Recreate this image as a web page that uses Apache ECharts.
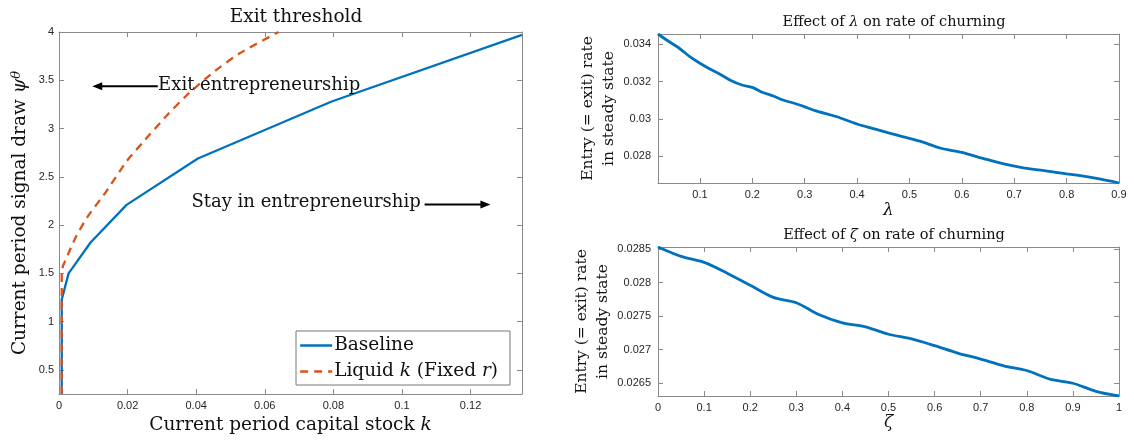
<!DOCTYPE html>
<html>
<head>
<meta charset="utf-8">
<script src="https://cdn.jsdelivr.net/npm/echarts@6/dist/echarts.min.js"></script>
<style>
  html, body { margin: 0; padding: 0; background: #fff; }
  #main { width: 1134px; height: 440px; }
</style>
</head>
<body>
<div id="main"></div>
<script>
// left panel: exit threshold
var baseK = [0.0008, 0.0008, 0.0028, 0.0092, 0.0197, 0.0405, 0.0795, 0.135];
var basePsi = [0.25, 1.23, 1.50, 1.82, 2.21, 2.69, 3.28, 3.97];
var liqK = [0.0008, 0.0008, 0.0012, 0.0022, 0.0035, 0.0051, 0.0082, 0.0138, 0.0197, 0.0245, 0.0313, 0.0371, 0.0449, 0.0527, 0.064];
var liqPsi = [0.25, 1.50, 1.58, 1.66, 1.77, 1.89, 2.08, 2.35, 2.66, 2.86, 3.13, 3.34, 3.58, 3.78, 4.0];
var kTicks = [0, 0.02, 0.04, 0.06, 0.08, 0.1, 0.12];
var psiTicks = [0.5, 1, 1.5, 2, 2.5, 3, 3.5, 4];

// right top: effect of lambda
var lambdaVals = [0.02, 0.04, 0.06, 0.08, 0.10, 0.12, 0.14, 0.16, 0.18, 0.20, 0.22, 0.24, 0.26, 0.28, 0.30, 0.32, 0.36, 0.40, 0.44, 0.48, 0.52, 0.56, 0.60, 0.64, 0.68, 0.72, 0.76, 0.80, 0.82, 0.86, 0.90];
var lambdaRate = [0.03455, 0.03416, 0.03380, 0.03335, 0.03298, 0.03266, 0.03237, 0.03204, 0.03182, 0.03169, 0.03142, 0.03123, 0.03100, 0.03084, 0.03065, 0.03045, 0.03013, 0.02973, 0.02941, 0.02911, 0.02881, 0.02843, 0.02821, 0.02789, 0.02759, 0.02737, 0.02722, 0.02706, 0.02699, 0.02680, 0.02657];
var lambdaTicks = [0.1, 0.2, 0.3, 0.4, 0.5, 0.6, 0.7, 0.8, 0.9];
var lambdaRateTicks = [0.028, 0.03, 0.032, 0.034];

// right bottom: effect of zeta
var zetaVals = [0, 0.05, 0.1, 0.15, 0.2, 0.25, 0.3, 0.35, 0.4, 0.45, 0.5, 0.55, 0.6, 0.65, 0.7, 0.75, 0.8, 0.85, 0.9, 0.95, 1];
var zetaRate = [0.02853, 0.02839, 0.02830, 0.02814, 0.02796, 0.02778, 0.02770, 0.02752, 0.02740, 0.02734, 0.02723, 0.02716, 0.02706, 0.02695, 0.02686, 0.02676, 0.02669, 0.02656, 0.02650, 0.02638, 0.02631];
var zetaTicks = [0, 0.1, 0.2, 0.3, 0.4, 0.5, 0.6, 0.7, 0.8, 0.9, 1];
var zetaRateTicks = [0.0265, 0.027, 0.0275, 0.028, 0.0285];

// annotations in data units of the left panel
var notes = [
  { text: 'Exit entrepreneurship', at: [0.0289, 3.446], from: [0.0288, 3.439], to: [0.0097, 3.439] },
  { text: 'Stay in entrepreneurship', at: [0.0386, 2.232], from: [0.1066, 2.214], to: [0.1258, 2.214] }
];

function zip(a, b) {
  var out = [];
  for (var i = 0; i < a.length; i++) out.push([a[i], b[i]]);
  return out;
}

var SERIF = '"DejaVu Serif", "Liberation Serif", serif';
var SANS = '"Liberation Sans", Arial, sans-serif';
var BOX = '#8a8a8a';
var BLUE = '#0072BD';
var RED = '#D95319';
var BIG = 18.5;

function fmt(v) { return String(+(+v).toFixed(6)); }

// bottom/left axis with labels
function mainAxis(opt) {
  return {
    type: 'value',
    gridIndex: opt.grid,
    min: opt.min,
    max: opt.max,
    position: opt.position,
    axisLine: { show: true, onZero: false, lineStyle: { color: BOX, width: 1 } },
    axisTick: { show: true, inside: true, length: 5, customValues: opt.ticks, lineStyle: { color: BOX } },
    axisLabel: {
      show: true, customValues: opt.ticks, formatter: fmt,
      color: '#262626', fontFamily: SANS, fontSize: 11, margin: opt.margin || 6
    },
    splitLine: { show: false },
    name: opt.name,
    nameLocation: 'middle',
    nameGap: opt.nameGap,
    nameTextStyle: opt.nameStyle
  };
}
// top/right axis, ticks only, closes the box
function boxAxis(opt) {
  return {
    type: 'value',
    gridIndex: opt.grid,
    min: opt.min,
    max: opt.max,
    position: opt.position,
    axisLine: { show: true, onZero: false, lineStyle: { color: BOX, width: 1 } },
    axisTick: { show: true, inside: true, length: 5, customValues: opt.ticks, lineStyle: { color: BOX } },
    axisLabel: { show: false },
    splitLine: { show: false }
  };
}

var richBig = {
  n: { fontFamily: SERIF, fontSize: BIG, color: '#111' },
  i: { fontFamily: SERIF, fontSize: BIG, fontStyle: 'italic', color: '#111' },
  s: { fontFamily: SERIF, fontSize: 13, fontStyle: 'italic', color: '#111', verticalAlign: 'top', padding: [0, 0, 8, 0] }
};
var rightYName = { fontFamily: SERIF, fontSize: 15.5, color: '#111', lineHeight: 21 };
var richTitle = {
  n: { fontFamily: SERIF, fontSize: 14.5, color: '#111' },
  i: { fontFamily: SERIF, fontSize: 14.5, fontStyle: 'italic', color: '#111' }
};

var chart = echarts.init(document.getElementById('main'));

var option = {
  animation: false,
  backgroundColor: '#fff',
  title: [
    { text: 'Exit threshold', left: 291, top: 3, textAlign: 'center',
      textStyle: { fontFamily: SERIF, fontSize: BIG, fontWeight: 'normal', color: '#111' } },
    { text: '{n|Effect of }{i|λ}{n| on rate of churning}', left: 889, top: 10, textAlign: 'center',
      textStyle: { fontFamily: SERIF, fontSize: 14.5, fontWeight: 'normal', color: '#111', rich: richTitle } },
    { text: '{n|Effect of }{i|ζ}{n| on rate of churning}', left: 889, top: 223, textAlign: 'center',
      textStyle: { fontFamily: SERIF, fontSize: 14.5, fontWeight: 'normal', color: '#111', rich: richTitle } }
  ],
  grid: [
    { left: 59, top: 32, width: 463, height: 365, containLabel: false },
    { left: 658, top: 34, width: 461, height: 149, containLabel: false },
    { left: 658, top: 247, width: 461, height: 149, containLabel: false }
  ],
  legend: {
    data: ['Baseline', 'Liquid k (Fixed r)'],
    orient: 'vertical',
    left: 296,
    top: 331,
    itemWidth: 32,
    itemHeight: 14,
    itemGap: 7,
    padding: [5, 12, 4, 3],
    backgroundColor: '#fff',
    borderColor: '#777',
    borderWidth: 1,
    borderRadius: 0,
    itemStyle: { opacity: 0 },
    lineStyle: { width: 2.3 },
    textStyle: { fontFamily: SERIF, fontSize: BIG, color: '#111', padding: [0, 0, 0, -3], rich: richBig },
    formatter: function(name) {
      if (name === 'Baseline') return '{n|Baseline}';
      return '{n|Liquid }{i|k}{n| (Fixed }{i|r}{n|)}';
    }
  },
  xAxis: [
    mainAxis({ grid: 0, min: 0, max: 0.135, ticks: kTicks, position: 'bottom', margin: 6,
      name: '{n|Current period capital stock }{i|k}', nameGap: 18,
      nameStyle: { fontFamily: SERIF, fontSize: BIG, color: '#111', rich: richBig } }),
    boxAxis({ grid: 0, min: 0, max: 0.135, ticks: kTicks, position: 'top' }),
    mainAxis({ grid: 1, min: 0.02, max: 0.9, ticks: lambdaTicks, position: 'bottom', margin: 6,
      name: 'λ', nameGap: 19, nameStyle: { fontFamily: SERIF, fontSize: 17, fontStyle: 'italic', color: '#111' } }),
    boxAxis({ grid: 1, min: 0.02, max: 0.9, ticks: lambdaTicks, position: 'top' }),
    mainAxis({ grid: 2, min: 0, max: 1, ticks: zetaTicks, position: 'bottom', margin: 6,
      name: 'ζ', nameGap: 13, nameStyle: { fontFamily: SERIF, fontSize: 17, fontStyle: 'italic', color: '#111' } }),
    boxAxis({ grid: 2, min: 0, max: 1, ticks: zetaTicks, position: 'top' })
  ],
  yAxis: [
    mainAxis({ grid: 0, min: 0.25, max: 4, ticks: psiTicks, position: 'left', margin: 5,
      name: '{n|Current period signal draw }{i|ψ}{s|θ}', nameGap: 28,
      nameStyle: { fontFamily: SERIF, fontSize: BIG, color: '#111', rich: richBig } }),
    boxAxis({ grid: 0, min: 0.25, max: 4, ticks: psiTicks, position: 'right' }),
    mainAxis({ grid: 1, min: 0.02657, max: 0.03455, ticks: lambdaRateTicks, position: 'left', margin: 7,
      name: 'Entry (= exit) rate\nin steady state', nameGap: 37, nameStyle: rightYName }),
    boxAxis({ grid: 1, min: 0.02657, max: 0.03455, ticks: lambdaRateTicks, position: 'right' }),
    mainAxis({ grid: 2, min: 0.02631, max: 0.02853, ticks: zetaRateTicks, position: 'left', margin: 7,
      name: 'Entry (= exit) rate\nin steady state', nameGap: 37, nameStyle: rightYName }),
    boxAxis({ grid: 2, min: 0.02631, max: 0.02853, ticks: zetaRateTicks, position: 'right' })
  ],
  series: [
    {
      name: 'Baseline', type: 'line', xAxisIndex: 0, yAxisIndex: 0,
      data: zip(baseK, basePsi), symbol: 'none', clip: true,
      lineStyle: { color: BLUE, width: 2.3 }, itemStyle: { color: BLUE }
    },
    {
      name: 'Liquid k (Fixed r)', type: 'line', xAxisIndex: 0, yAxisIndex: 0,
      data: zip(liqK, liqPsi), symbol: 'none', clip: true, smooth: 0.2,
      lineStyle: { color: RED, width: 2.3, type: [8, 6] }, itemStyle: { color: RED }
    },
    {
      name: 'lambda', type: 'line', xAxisIndex: 2, yAxisIndex: 2,
      data: zip(lambdaVals, lambdaRate), symbol: 'none', smooth: 0.3,
      lineStyle: { color: BLUE, width: 2.8 }, itemStyle: { color: BLUE }
    },
    {
      name: 'zeta', type: 'line', xAxisIndex: 4, yAxisIndex: 4,
      data: zip(zetaVals, zetaRate), symbol: 'none', smooth: 0.3,
      lineStyle: { color: BLUE, width: 2.8 }, itemStyle: { color: BLUE }
    }
  ]
};
chart.setOption(option);

// text + arrows placed in data coordinates of the left panel
var g = [];
for (var i = 0; i < notes.length; i++) {
  var n = notes[i];
  var at = chart.convertToPixel({ gridIndex: 0 }, n.at);
  var p1 = chart.convertToPixel({ gridIndex: 0 }, n.from);
  var p2 = chart.convertToPixel({ gridIndex: 0 }, n.to);
  var dir = p2[0] > p1[0] ? 1 : -1;
  g.push({
    type: 'text', z: 100, x: at[0], y: at[1],
    style: { text: n.text, fontFamily: SERIF, fontSize: 18, fill: '#111', verticalAlign: 'middle', align: 'left' }
  });
  g.push({
    type: 'line', z: 100,
    shape: { x1: p1[0], y1: p1[1], x2: p2[0] - dir * 6, y2: p2[1] },
    style: { stroke: '#000', lineWidth: 2 }
  });
  g.push({
    type: 'polygon', z: 100,
    shape: { points: [[p2[0], p2[1]], [p2[0] - dir * 10, p2[1] - 4], [p2[0] - dir * 10, p2[1] + 4]] },
    style: { fill: '#000' }
  });
}
chart.setOption({ graphic: g });
</script>
</body>
</html>
